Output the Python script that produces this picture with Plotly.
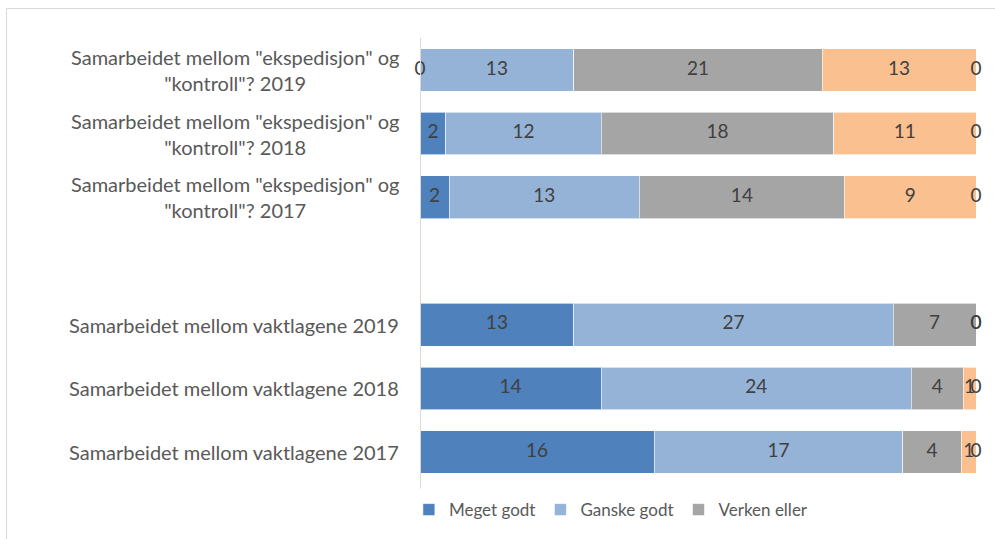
import plotly.graph_objects as go

# Categories, bottom row first; GAP is an empty row separating the two groups
GAP = " "
categories = [
    "Samarbeidet mellom vaktlagene 2017",
    "Samarbeidet mellom vaktlagene 2018",
    "Samarbeidet mellom vaktlagene 2019",
    GAP,
    'Samarbeidet mellom "ekspedisjon" og<br>"kontroll"? 2017',
    'Samarbeidet mellom "ekspedisjon" og<br>"kontroll"? 2018',
    'Samarbeidet mellom "ekspedisjon" og<br>"kontroll"? 2019',
]
rows = [c for c in categories if c != GAP]

series_names = ["Meget godt", "Ganske godt", "Verken eller", "Ganske dårlig", "Meget dårlig"]
meget_godt = [16, 14, 13, 2, 2, 0]
ganske_godt = [17, 24, 27, 13, 12, 13]
verken_eller = [4, 4, 7, 14, 18, 21]
ganske_darlig = [1, 1, 0, 9, 11, 13]
meget_darlig = [0, 0, 0, 0, 0, 0]
series_values = [meget_godt, ganske_godt, verken_eller, ganske_darlig, meget_darlig]
colors = ["#4F81BD", "#95B3D7", "#A5A5A5", "#FAC090", "#FFD966"]
show_in_legend = [True, True, True, False, False]

W, H = 995, 539
ML, MR, MT, MB = 420, 19, 38, 54
pw, ph = W - ML - MR, H - MT - MB

fig = go.Figure()
for name, vals, col, show in zip(series_names, series_values, colors, show_in_legend):
    fig.add_trace(go.Bar(
        y=rows, x=vals, name=name, orientation="h",
        marker=dict(color=col, line=dict(color="rgba(255,255,255,0.6)", width=1)),
        showlegend=show, hoverinfo="x+y+name",
    ))

# Data labels centred on each segment (percent scale, like the stacked bars)
totals = [sum(v[i] for v in series_values) for i in range(len(rows))]
lab_x, lab_y, lab_t = [], [], []
for i, r in enumerate(rows):
    cum = 0
    for vals in series_values:
        v = vals[i]
        lab_x.append((cum + v / 2) / totals[i] * 100)
        lab_y.append(r)
        lab_t.append(str(v))
        cum += v
fig.add_trace(go.Scatter(
    x=lab_x, y=lab_y, text=lab_t, mode="text", showlegend=False, hoverinfo="skip",
    textfont=dict(family="Lato, sans-serif", size=19, color="#404040"),
    cliponaxis=False,
))

# Category labels (centred multi-line, right edge near the axis)
for c in categories:
    if c == GAP:
        continue
    fig.add_annotation(
        x=-19 / pw, xref="paper", y=c, yref="y", text=c, showarrow=False,
        xanchor="right", yanchor="middle", align="center",
        font=dict(family="Lato, sans-serif", size=20, color="#595959"),
    )

# Chart-area border
fig.add_shape(
    type="rect", xref="paper", yref="paper",
    x0=(6.5 - ML) / pw, x1=(1000 - ML) / pw,
    y0=(H - MB - 545) / ph, y1=(H - MB - 8.5) / ph,
    line=dict(color="#D9D9D9", width=1), fillcolor="rgba(0,0,0,0)", layer="below",
)

fig.update_layout(
    width=W, height=H,
    margin=dict(l=ML, r=MR, t=MT, b=MB),
    paper_bgcolor="white", plot_bgcolor="white",
    barmode="stack", barnorm="percent", bargap=0.33,
    font=dict(family="Lato, sans-serif", color="#595959"),
    xaxis=dict(range=[0, 100], visible=False, fixedrange=True),
    yaxis=dict(
        type="category", categoryorder="array", categoryarray=categories,
        showticklabels=False, ticks="", showgrid=False, zeroline=False,
        showline=False,
    ),
    legend=dict(
        orientation="h", x=-0.02, xanchor="left", y=-0.056, yanchor="middle",
        font=dict(family="Lato, sans-serif", size=17, color="#595959"),
        traceorder="normal", itemwidth=30,
    ),
)

# Vertical category-axis line at 0 %
fig.add_shape(
    type="line", xref="x", yref="paper", x0=0, x1=0, y0=-0.01, y1=1.0,
    line=dict(color="#D9D9D9", width=2), layer="above",
)

fig.write_html("out.html")
